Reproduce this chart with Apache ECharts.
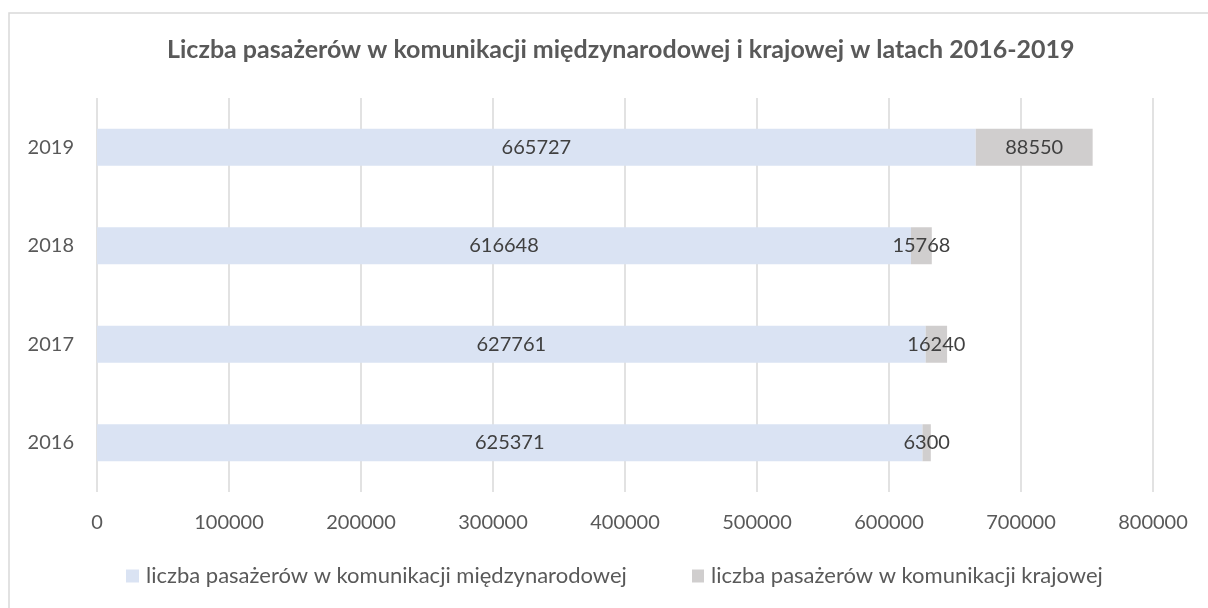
<!DOCTYPE html>
<html><head><meta charset="utf-8">
<script src="https://cdn.jsdelivr.net/npm/echarts@6/dist/echarts.min.js"></script>
<style>html,body{margin:0;padding:0;background:#fff}#c{width:1208px;height:608px}</style>
</head><body><div id="c"></div>
<script>
const years = ['2016','2017','2018','2019'];
const international = [625371, 627761, 616648, 665727];
const domestic = [6300, 16240, 15768, 88550];
const seriesNames = ['liczba pasażerów w komunikacji międzynarodowej','liczba pasażerów w komunikacji krajowej'];
const titleText = 'Liczba pasażerów w komunikacji międzynarodowej i krajowej w latach 2016-2019';
const font = 'Lato, "Open Sans", sans-serif';
const legendText = {fontFamily:font,fontSize:22,color:'#595959',padding:[0,0,0,2]};
const chart = echarts.init(document.getElementById('c'));
chart.setOption({
  animation:false,
  graphic:[{type:'rect',shape:{x:9,y:13,width:1215,height:620},style:{fill:'none',stroke:'#d9d9d9',lineWidth:1.5},z:-1}],
  title:{text:titleText,left:162,top:32,textStyle:{fontFamily:font,fontSize:25,fontWeight:'bold',color:'#595959'}},
  legend:[
    {data:[seriesNames[0]],left:121,top:560,itemWidth:13,itemHeight:13,icon:'rect',textStyle:legendText},
    {data:[seriesNames[1]],left:687,top:560,itemWidth:12,itemHeight:13,icon:'rect',textStyle:legendText}
  ],
  grid:{left:97,right:55,top:98,bottom:116,containLabel:false},
  xAxis:{type:'value',min:0,max:800000,interval:100000,
    axisLine:{show:false},axisTick:{show:false},
    axisLabel:{fontFamily:font,fontSize:20,color:'#595959',margin:21,formatter:v=>String(v)},
    splitLine:{lineStyle:{color:'#d9d9d9',width:1.5}}},
  yAxis:{type:'category',data:years,axisLine:{show:false},axisTick:{show:false},
    axisLabel:{fontFamily:font,fontSize:20,color:'#595959',margin:23}},
  series:[
    {name:seriesNames[0],type:'bar',stack:'a',data:international,barWidth:37,
     itemStyle:{color:'#dae3f3'},
     label:{show:true,position:'inside',fontFamily:font,fontSize:20,color:'#404040'}},
    {name:seriesNames[1],type:'bar',stack:'a',data:domestic,barWidth:37,
     itemStyle:{color:'#d0cece'},
     label:{show:true,position:'inside',fontFamily:font,fontSize:20,color:'#404040'}}
  ]
});
</script></body></html>
